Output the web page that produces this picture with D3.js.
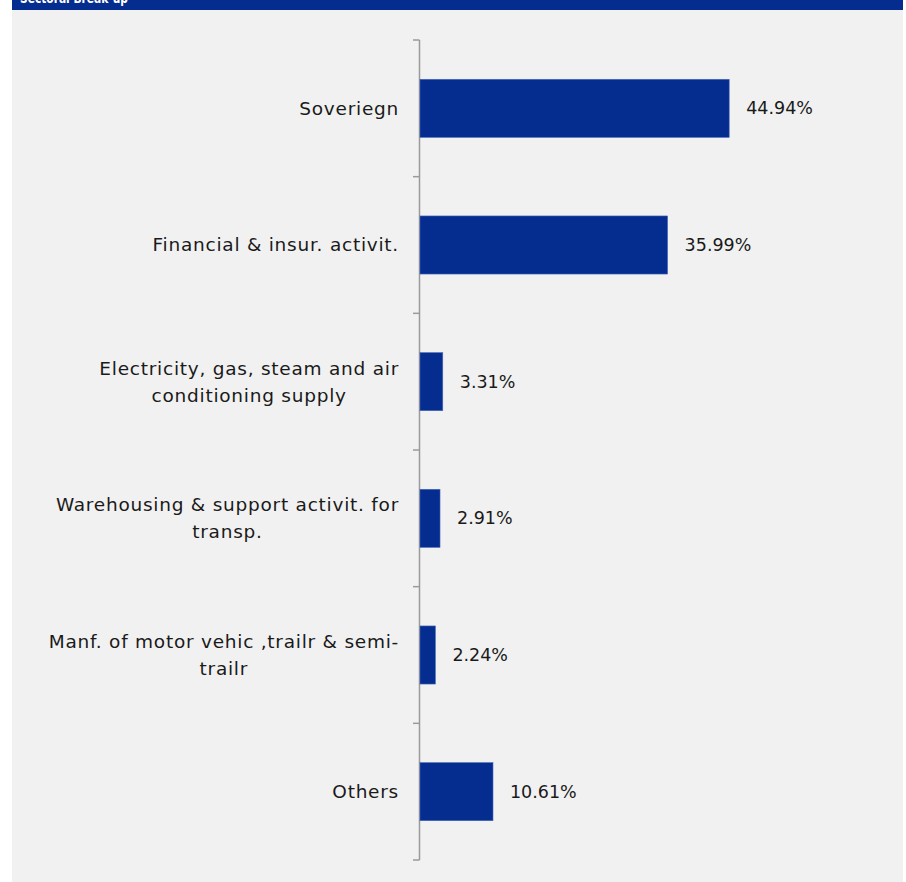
<!DOCTYPE html>
<html>
<head>
<meta charset="utf-8">
<script src="https://cdn.jsdelivr.net/npm/d3@7"></script>
<style>
  body { margin: 0; background: #fff; }
  svg { display: block; }
  text { font-family: 'Century Gothic', 'DejaVu Sans', sans-serif; fill: #1a1a1a; }
</style>
</head>
<body>
<div id="chart"></div>
<script>
const title = 'Sectoral Break-up';

const categories = [
  ['Soveriegn'],
  ['Financial & insur. activit.'],
  ['Electricity, gas, steam and air', 'conditioning supply'],
  ['Warehousing & support activit. for', 'transp.'],
  ['Manf. of motor vehic ,trailr & semi-', 'trailr'],
  ['Others'],
];

const shares = [44.94, 35.99, 3.31, 2.91, 2.24, 10.61];

const width = 906;
const height = 882;

const svg = d3.select('#chart')
  .append('svg')
  .attr('width', width)
  .attr('height', height);

// panel background and header strip
svg.append('rect')
  .attr('x', 12).attr('y', 10)
  .attr('width', 891).attr('height', 872)
  .attr('fill', '#f1f1f1');

svg.append('rect')
  .attr('x', 12).attr('y', 0)
  .attr('width', 891).attr('height', 10)
  .attr('fill', '#052c8f');

// title sits mostly above the visible area, as in the cropped original
svg.append('text')
  .attr('x', 20).attr('y', 2.5)
  .attr('font-size', 14)
  .attr('font-weight', 'bold')
  .attr('textLength', 108)
  .attr('lengthAdjust', 'spacingAndGlyphs')
  .style('fill', '#fff')
  .text(title);

const data = categories.map((lines, i) => ({ lines, value: shares[i], key: lines.join(' ') }));

const x = d3.scaleLinear().domain([0, 50]).range([420, 764]);

const y = d3.scaleBand()
  .domain(data.map((d) => d.key))
  .range([40, 860])
  .paddingInner(0.575)
  .paddingOuter(0.2875);

// axis line with ticks on band boundaries
const boundaries = d3.range(categories.length + 1).map((i) => 40 + i * (820 / categories.length));

svg.append('line')
  .attr('x1', 419.5).attr('x2', 419.5)
  .attr('y1', 40).attr('y2', 860)
  .attr('stroke', '#9a9a9a')
  .attr('stroke-width', 1.5);

svg.selectAll('line.tick')
  .data(boundaries)
  .join('line')
  .attr('class', 'tick')
  .attr('x1', 413).attr('x2', 419.5)
  .attr('y1', (d) => d).attr('y2', (d) => d)
  .attr('stroke', '#9a9a9a')
  .attr('stroke-width', 1.5);

svg.selectAll('rect.bar')
  .data(data)
  .join('rect')
  .attr('class', 'bar')
  .attr('x', x(0))
  .attr('y', (d) => y(d.key))
  .attr('width', (d) => x(d.value) - x(0))
  .attr('height', y.bandwidth())
  .attr('fill', '#052c8f')
  .attr('stroke', '#4a6ab8')
  .attr('stroke-width', 0.6);

svg.selectAll('text.value')
  .data(data)
  .join('text')
  .attr('class', 'value')
  .attr('x', (d) => x(d.value) + 17)
  .attr('y', (d) => y(d.key) + y.bandwidth() / 2)
  .attr('dy', '0.35em')
  .attr('font-size', 17.5)
  .text((d) => d.value.toFixed(2) + '%');

// category labels, lines centred on each other, block right-aligned to the axis
const labelRight = 399;
const lineGap = 27;

data.forEach((d) => {
  const cy = y(d.key) + y.bandwidth() / 2;
  const g = svg.append('g');
  const texts = d.lines.map((line, i) =>
    g.append('text')
      .attr('font-size', 18.5)
      .attr('letter-spacing', 0.75)
      .attr('dy', '0.35em')
      .attr('y', cy + (i - (d.lines.length - 1) / 2) * lineGap)
      .text(line)
  );
  const widths = texts.map((t) => t.node().getComputedTextLength());
  const maxW = d3.max(widths);
  const centre = labelRight - maxW / 2;
  texts.forEach((t) => t.attr('x', centre).attr('text-anchor', 'middle'));
});
</script>
</body>
</html>
